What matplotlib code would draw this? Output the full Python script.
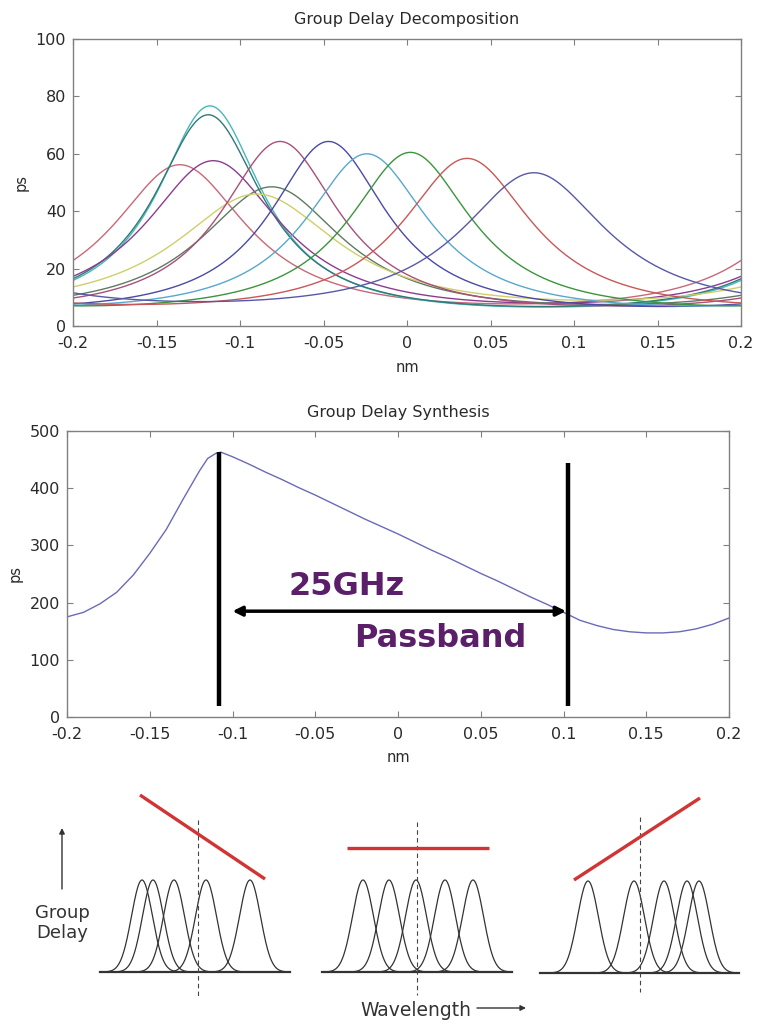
import numpy as np
import matplotlib
matplotlib.use('Agg')
import matplotlib.pyplot as plt

plt.rcParams['font.family'] = ['DejaVu Sans']

# ---------------- data ----------------
# Top panel: individual ring group-delay responses (periodic, FSR 0.4 nm)
decomp_centers = [-0.136, -0.118, -0.119, -0.116, -0.081, -0.090, -0.076,
                  -0.047, -0.024, 0.002, 0.036, 0.076]
decomp_peaks = [56.2, 76.7, 73.6, 57.6, 48.5, 46.0, 64.3, 64.3, 60.0, 60.5, 58.4, 53.4]
decomp_floors = [7.7, 6.6, 6.8, 8.0, 7.5, 9.0, 7.0, 6.8, 7.0, 7.0, 7.5, 8.5]
decomp_colors = ['#c86878', '#48b8b8', '#2f7a78', '#8c3c90', '#5f7a62', '#cfcf6a',
                 '#a8507a', '#4a4aa6', '#58a8cc', '#3c943c', '#c85858', '#5858a8']
fsr_nm = 0.4

# Middle panel: synthesized group delay
synth_nm = [-0.20, -0.19, -0.18, -0.17, -0.16, -0.15, -0.14, -0.13, -0.12, -0.115,
            -0.11, -0.107, -0.10, -0.09, -0.08, -0.07, -0.06, -0.05, -0.04, -0.03,
            -0.02, -0.01, 0.00, 0.01, 0.02, 0.03, 0.04, 0.05, 0.06, 0.07, 0.08,
            0.09, 0.10, 0.11, 0.12, 0.13, 0.14, 0.15, 0.16, 0.17, 0.18, 0.19, 0.20]
synth_ps = [175, 183, 198, 218, 248, 286, 328, 380, 430, 452,
            461, 463, 455, 442, 428, 415, 401, 388, 374, 360,
            346, 333, 320, 306, 292, 279, 265, 251, 238, 224, 210,
            197, 183, 169, 160, 153, 149, 147, 147, 149, 154, 162, 173]
passband_edges = [-0.108, 0.103]
edge_tops = [463, 444]
edge_bottom = 19
arrow_span = [-0.100, 0.1015]
arrow_level = 185

xticks = [-0.2, -0.15, -0.1, -0.05, 0, 0.05, 0.1, 0.15, 0.2]
xtick_labels = ['-0.2', '-0.15', '-0.1', '-0.05', '0', '0.05', '0.1', '0.15', '0.2']
yticks_top = [0, 20, 40, 60, 80, 100]
yticks_mid = [0, 100, 200, 300, 400, 500]

# Bottom schematic: peak positions for three dispersion cases
diag_left_peaks = [142, 153, 174, 206, 250]
diag_mid_peaks = [363, 389, 416, 445, 473]
diag_right_peaks = [588, 634, 664, 687, 699]


def ring_delay(x, c, p, m):
    k = np.sqrt(p / m)
    r = (k - 1) / (k + 1)
    T = np.sqrt(p * m)
    phi = 2 * np.pi * (x - c) / fsr_nm
    return T * (1 - r ** 2) / (1 + r ** 2 - 2 * r * np.cos(phi))


W, H = 757, 1025
fig = plt.figure(figsize=(W / 100, H / 100), dpi=100)

spine_col = '#808080'
lab_col = '#2a2a2a'


def style_axes(ax):
    for s in ax.spines.values():
        s.set_color(spine_col)
        s.set_linewidth(1.0)
    ax.tick_params(direction='in', top=True, right=True, length=4, width=0.8,
                   color=spine_col, labelcolor=lab_col, labelsize=11.5)
    ax.tick_params(axis='x', pad=7)
    ax.tick_params(axis='y', pad=5)


# ---------------- top panel ----------------
ax1 = fig.add_axes([73 / W, (H - 326) / H, 668 / W, 287 / H])
xs = np.linspace(-0.2, 0.2, 801)
for c, p, m, col in zip(decomp_centers, decomp_peaks, decomp_floors, decomp_colors):
    ax1.plot(xs, ring_delay(xs, c, p, m), color=col, lw=1.0)
ax1.set_xlim(-0.2, 0.2)
ax1.set_ylim(0, 100)
ax1.set_xticks(xticks)
ax1.set_xticklabels(xtick_labels)
ax1.set_yticks(yticks_top)
style_axes(ax1)
ax1.text(0.5, 1 + 19 / 287, 'Group Delay Decomposition', transform=ax1.transAxes,
         ha='center', va='center', fontsize=11.5, color=lab_col)
ax1.text(0.5, -41 / 287, 'nm', transform=ax1.transAxes, ha='center', va='center',
         fontsize=10.5, color=lab_col)
ax1.text(-52 / 668, 0.5, 'ps', transform=ax1.transAxes, ha='center', va='center',
         rotation=90, fontsize=10.5, color=lab_col)

# ---------------- middle panel ----------------
ax2 = fig.add_axes([67 / W, (H - 717) / H, 662 / W, 286 / H])
ax2.plot(synth_nm, synth_ps, color='#6a6ab8', lw=1.0)
for xe, yt in zip(passband_edges, edge_tops):
    ax2.plot([xe, xe], [edge_bottom, yt], color='black', lw=3.2, solid_capstyle='butt')
ax2.annotate('', xy=(arrow_span[0], arrow_level), xytext=(arrow_span[1], arrow_level),
             arrowprops=dict(arrowstyle='<|-|>', lw=2.5, color='black',
                             mutation_scale=14, shrinkA=0, shrinkB=0))
ax2.text(-0.031, 213, '25GHz', ha='center', va='baseline', fontsize=23,
         fontweight='bold', color='#5b1f6a')
ax2.text(0.0254, 122, 'Passband', ha='center', va='baseline', fontsize=23,
         fontweight='bold', color='#5b1f6a')
ax2.set_xlim(-0.2, 0.2)
ax2.set_ylim(0, 500)
ax2.set_xticks(xticks)
ax2.set_xticklabels(xtick_labels)
ax2.set_yticks(yticks_mid)
style_axes(ax2)
ax2.text(0.5, 1 + 18 / 286, 'Group Delay Synthesis', transform=ax2.transAxes,
         ha='center', va='center', fontsize=11.5, color=lab_col)
ax2.text(0.5, -41 / 286, 'nm', transform=ax2.transAxes, ha='center', va='center',
         fontsize=10.5, color=lab_col)
ax2.text(-52 / 662, 0.5, 'ps', transform=ax2.transAxes, ha='center', va='center',
         rotation=90, fontsize=10.5, color=lab_col)

# ---------------- bottom schematic ----------------
ax3 = fig.add_axes([0, 0, 1, 245 / H])
ax3.set_xlim(0, W)
ax3.set_ylim(H, 780)
ax3.axis('off')

peak_h = 92
sigma = 10.5
panels = [
    (diag_left_peaks, (100, 290), 972, 198, (820, 997), ((140, 795), (265, 879))),
    (diag_mid_peaks, (322, 512), 972, 417, (822, 995), ((347, 848), (489, 848))),
    (diag_right_peaks, (540, 739), 973, 640, (817, 992), ((574, 880), (700, 798))),
]
for peaks, (x0, x1), base, xd, (yd0, yd1), (p0, p1) in panels:
    for c in peaks:
        xx = np.linspace(max(x0, c - 46), min(x1, c + 46), 200)
        ax3.plot(xx, base - peak_h * np.exp(-(xx - c) ** 2 / (2 * sigma ** 2)),
                 color='#333333', lw=0.9)
    ax3.plot([x0, x1], [base, base], color='#333333', lw=1.6)
    ax3.plot([xd, xd], [yd0, yd1], color='#444444', lw=0.8, ls=(0, (4, 3)))
    ax3.plot([p0[0], p1[0]], [p0[1], p1[1]], color='#d23434', lw=2.4,
             solid_capstyle='butt')

ax3.annotate('', xy=(62, 828), xytext=(62, 889),
             arrowprops=dict(arrowstyle='-|>', lw=1.0, color='#333333',
                             mutation_scale=8, shrinkA=0, shrinkB=0))
ax3.text(62, 923, 'Group\nDelay', ha='center', va='center', fontsize=13,
         color='#333333', linespacing=1.15)
ax3.text(416, 1010, 'Wavelength', ha='center', va='center', fontsize=13.5,
         color='#333333')
ax3.annotate('', xy=(526, 1008), xytext=(477, 1008),
             arrowprops=dict(arrowstyle='-|>', lw=1.0, color='#333333',
                             mutation_scale=8, shrinkA=0, shrinkB=0))

fig.savefig('out.png', dpi=100)
